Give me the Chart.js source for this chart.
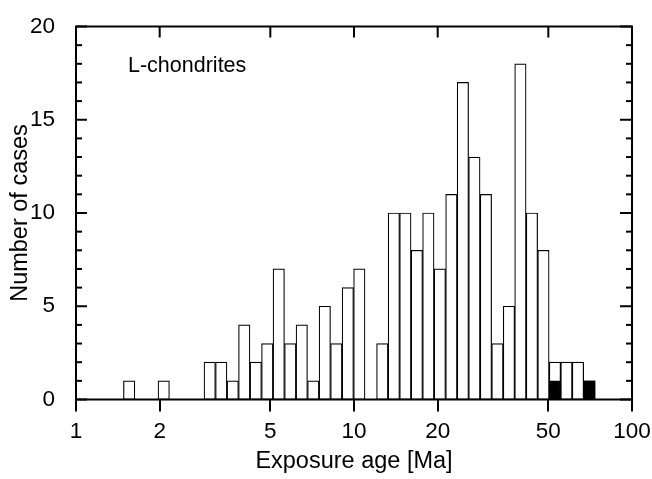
<!DOCTYPE html>
<html><head><meta charset="utf-8">
<script src="https://cdn.jsdelivr.net/npm/chart.js@4.4.1/dist/chart.umd.min.js"></script>
<style>html,body{margin:0;padding:0;background:#fff;overflow:hidden}canvas{display:block}</style>
</head><body><canvas id="c" width="652" height="479" style="width:652px;height:479px"></canvas>
<script>
// Histogram bins (geometric centres, ratio ~1.1) in Ma
const binCenters = [1.553, 1.709, 1.880, 2.068, 2.274, 2.502, 2.752,
  3.027, 3.330, 3.663, 4.029, 4.432, 4.875, 5.362, 5.899, 6.488, 7.137,
  7.851, 8.636, 9.500, 10.45, 11.50, 12.64, 13.91, 15.30, 16.83, 18.51,
  20.36, 22.40, 24.64, 27.10, 29.82, 32.80, 36.08, 39.68, 43.65, 48.02,
  52.82, 58.10, 63.91, 70.30];
// Number of cases per bin (all L-chondrites)
const allCases = [1, 0, 0, 1, 0, 0, 0,
  2, 2, 1, 4, 2, 3, 7, 3, 4, 1,
  5, 3, 6, 7, 0, 3, 10, 10, 8, 10,
  7, 11, 17, 13, 11, 3, 5, 18, 10, 8,
  2, 2, 2, 1];
// Subset shown in black
const blackCases = [0, 0, 0, 0, 0, 0, 0,
  0, 0, 0, 0, 0, 0, 0, 0, 0, 0,
  0, 0, 0, 0, 0, 0, 0, 0, 0, 0,
  0, 0, 0, 0, 0, 0, 0, 0, 0, 0,
  1, 0, 0, 1];
const xTickValues = [1, 2, 5, 10, 20, 50, 100];
const yTickValues = [0, 5, 10, 15, 20];
const yMinorValues = [1,2,3,4,6,7,8,9,11,12,13,14,16,17,18,19];

const FONT = '"Liberation Sans", Arial, sans-serif';

const framePlugin = {
  id: 'frame',
  afterDatasetsDraw(chart) {
    const {ctx, chartArea: a, scales: {x, y}} = chart;
    ctx.save();
    ctx.strokeStyle = '#000';
    ctx.lineWidth = 2;
    const line = (x1, y1, x2, y2) => { ctx.beginPath(); ctx.moveTo(x1, y1); ctx.lineTo(x2, y2); ctx.stroke(); };
    yTickValues.forEach(v => { const py = y.getPixelForValue(v); line(a.left, py, a.left + 11, py); line(a.right, py, a.right - 12, py); });
    yMinorValues.forEach(v => { const py = y.getPixelForValue(v); line(a.left, py, a.left + 6, py); line(a.right, py, a.right - 6, py); });
    xTickValues.forEach(v => { const px = x.getPixelForValue(v); line(px, a.top, px, a.top + 11); });
    ctx.strokeRect(a.left, a.top, a.right - a.left, a.bottom - a.top);
    ctx.fillStyle = '#000';
    ctx.font = '21.5px ' + FONT;
    ctx.textBaseline = 'alphabetic';
    ctx.fillText('L-chondrites', a.left + 52, a.top + 45);
    ctx.restore();
  }
};

new Chart(document.getElementById('c'), {
  type: 'bar',
  data: {
    datasets: [
      {
        label: 'black',
        data: binCenters.map((x, i) => ({x, y: blackCases[i]})),
        backgroundColor: '#000', borderColor: '#000', borderWidth: 1.2, borderSkipped: false,
        grouped: false, barPercentage: 1, categoryPercentage: 1, order: 0
      },
      {
        label: 'all',
        data: binCenters.map((x, i) => ({x, y: allCases[i]})),
        backgroundColor: '#fff', borderColor: '#000', borderWidth: 1.2, borderSkipped: false,
        grouped: false, barPercentage: 1, categoryPercentage: 1, order: 1
      }
    ]
  },
  options: {
    responsive: false, animation: false, devicePixelRatio: 1,
    layout: {autoPadding: false, padding: {left: 0, right: 20, top: 24.5, bottom: 0}},
    plugins: {legend: {display: false}, tooltip: {enabled: false}},
    scales: {
      x: {
        type: 'logarithmic', min: 1, max: 100, offset: false,
        afterBuildTicks: s => { s.ticks = xTickValues.map(v => ({value: v})); },
        afterFit: s => { s.height = 79.5; s.paddingLeft = 0; s.paddingRight = 0; },
        grid: {display: true, offset: false, drawOnChartArea: false, drawTicks: true, tickLength: 12, color: '#000', lineWidth: 2},
        border: {display: false},
        ticks: {color: '#000', font: {family: FONT, size: 22.5}, padding: 7, maxRotation: 0, autoSkip: false,
          callback: v => String(v)},
        title: {display: true, text: 'Exposure age [Ma]', color: '#000', font: {family: FONT, size: 23.5}, padding: {top: 0, bottom: 3.5}}
      },
      y: {
        type: 'linear', min: 0, max: 20,
        afterBuildTicks: s => { s.ticks = yTickValues.map(v => ({value: v})); },
        afterFit: s => { s.width = 76; },
        grid: {display: false},
        border: {display: false},
        ticks: {color: '#000', font: {family: FONT, size: 22.5}, padding: 13},
        title: {display: true, text: 'Number of cases', color: '#000', font: {family: FONT, size: 23.5}, padding: {top: 6, bottom: 0}}
      }
    }
  },
  plugins: [framePlugin]
});
</script>
</body></html>
